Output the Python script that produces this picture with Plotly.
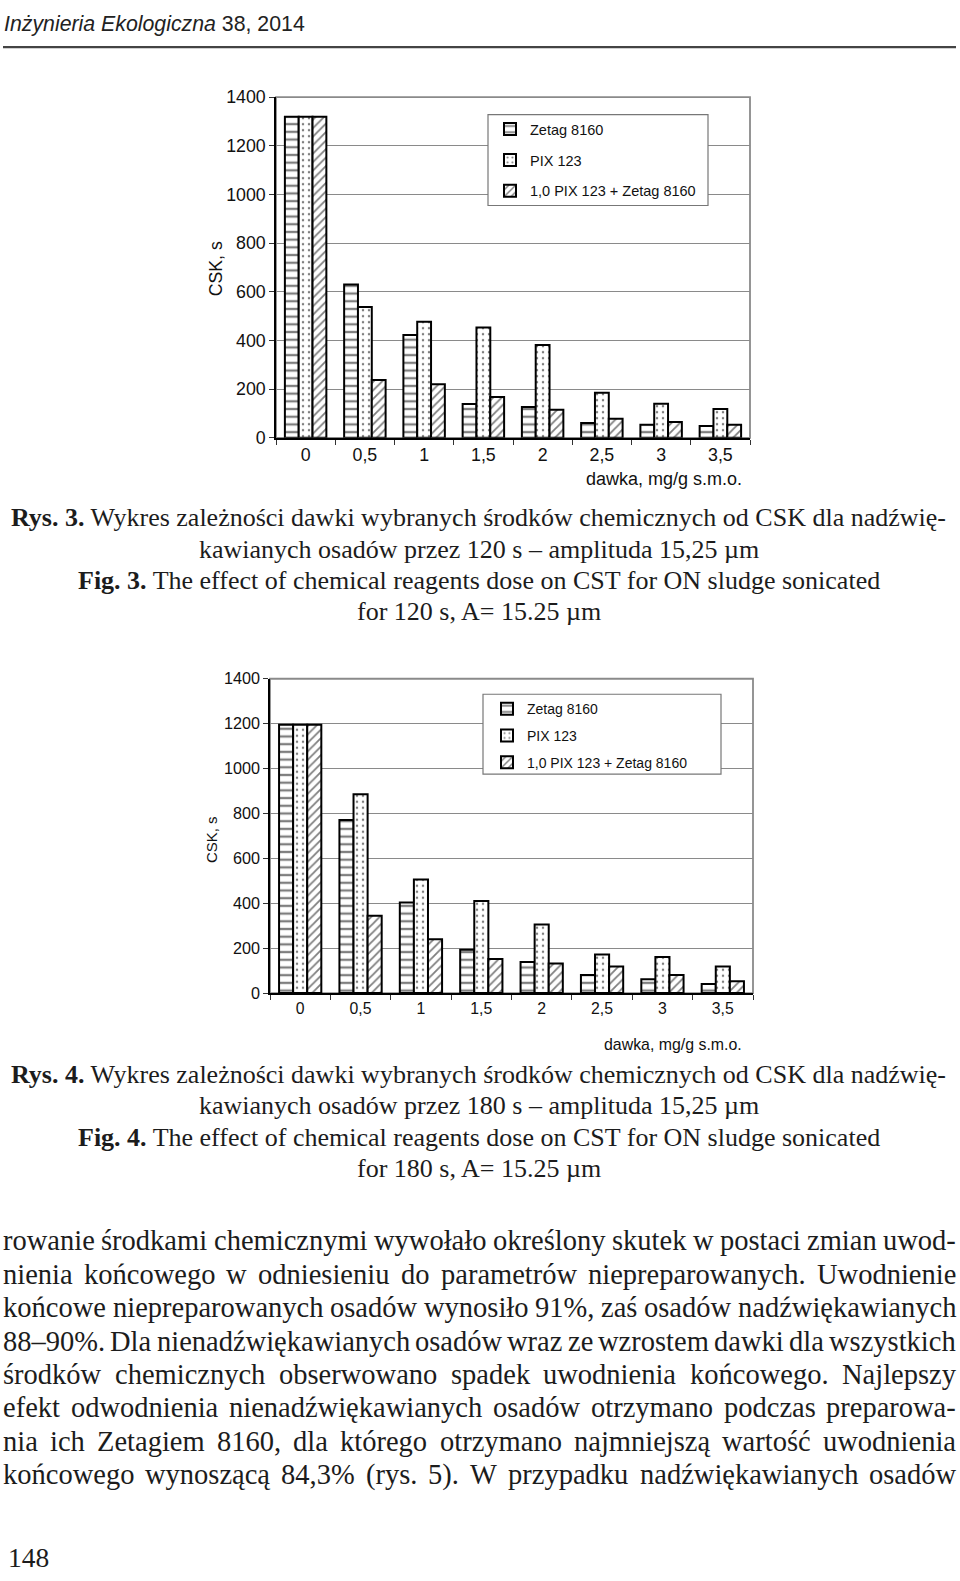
import plotly.graph_objects as go

# ---------------- data ----------------
doses = ["0", "0,5", "1", "1,5", "2", "2,5", "3", "3,5"]
series_names = ["Zetag 8160", "PIX 123", "1,0 PIX 123 + Zetag 8160"]
fig3_zetag = [1320, 630, 423, 139, 127, 61, 54, 49]
fig3_pix = [1320, 538, 477, 453, 381, 185, 140, 118]
fig3_combo = [1320, 238, 220, 168, 115, 78, 65, 54]
fig4_zetag = [1195, 771, 403, 193, 138, 81, 62, 40]
fig4_pix = [1195, 885, 506, 410, 306, 172, 161, 119]
fig4_combo = [1195, 345, 240, 152, 132, 119, 81, 53]
y_ticks = [0, 200, 400, 600, 800, 1000, 1200, 1400]

header_text = "<i>Inżynieria Ekologiczna</i> 38, 2014"
caption3 = ["<b>Rys. 3.</b> Wykres zależności dawki wybranych środków chemicznych od CSK dla nadźwię-",
            "kawianych osadów przez 120 s – amplituda 15,25 µm",
            "<b>Fig. 3.</b> The effect of chemical reagents dose on CST for ON sludge sonicated",
            "for 120 s, A= 15.25 µm"]
caption4 = ["<b>Rys. 4.</b> Wykres zależności dawki wybranych środków chemicznych od CSK dla nadźwię-",
            "kawianych osadów przez 180 s – amplituda 15,25 µm",
            "<b>Fig. 4.</b> The effect of chemical reagents dose on CST for ON sludge sonicated",
            "for 180 s, A= 15.25 µm"]
body_lines = [
    "rowanie środkami chemicznymi wywołało określony skutek w postaci zmian uwod-",
    "nienia końcowego w odniesieniu do parametrów niepreparowanych. Uwodnienie",
    "końcowe niepreparowanych osadów wynosiło 91%, zaś osadów nadźwiękawianych",
    "88–90%. Dla nienadźwiękawianych osadów wraz ze wzrostem dawki dla wszystkich",
    "środków chemicznych obserwowano spadek uwodnienia końcowego. Najlepszy",
    "efekt odwodnienia nienadźwiękawianych osadów otrzymano podczas preparowa-",
    "nia ich Zetagiem 8160, dla którego otrzymano najmniejszą wartość uwodnienia",
    "końcowego wynoszącą 84,3% (rys. 5). W przypadku nadźwiękawianych osadów",
]
page_number = "148"

# ---------------- helpers ----------------
W, H = 960, 1581


def px(x):
    return x / W


def py(y):
    return 1 - y / H


TIMES = {}
for ch, w in zip("abcdefghijklmnopqrstuvwxyz",
                 [444, 500, 444, 500, 444, 333, 500, 500, 278, 278, 500, 278, 778,
                  500, 500, 500, 500, 333, 389, 278, 500, 500, 722, 500, 500, 444]):
    TIMES[ch] = w
for ch, w in zip("ABCDEFGHIJKLMNOPQRSTUVWXYZ",
                 [722, 667, 667, 722, 611, 556, 722, 722, 333, 389, 722, 611, 889,
                  722, 722, 556, 722, 667, 556, 611, 722, 722, 944, 722, 722, 611]):
    TIMES[ch] = w
for ch in "0123456789":
    TIMES[ch] = 500
TIMES.update({" ": 250, ".": 250, ",": 250, "%": 833, "(": 333, ")": 333, "–": 500,
              "-": 333, ":": 278, "ą": 444, "ć": 444, "ę": 444, "ł": 278, "ń": 500,
              "ó": 500, "ś": 389, "ź": 444, "ż": 444})


def tw(s, fs):
    return sum(TIMES.get(c, 500) for c in s) * fs / 1000.0


SANS = "Liberation Sans, Arial, sans-serif"
SERIF = "Liberation Serif, Times New Roman, serif"

fig = go.Figure()

patterns = [dict(shape="-", size=7.7, solidity=0.3, fgcolor="black", bgcolor="white"),
            dict(shape=".", size=6, solidity=0.14, fgcolor="black", bgcolor="white"),
            dict(shape="/", size=6, solidity=0.3, fgcolor="black", bgcolor="white")]

for i, (name, vals) in enumerate(zip(series_names, [fig3_zetag, fig3_pix, fig3_combo])):
    fig.add_trace(go.Bar(x=doses, y=vals, name=name, xaxis="x", yaxis="y",
                         marker=dict(color="white", pattern=patterns[i],
                                     line=dict(color="black", width=2)),
                         legend="legend", legendgroup="a%d" % i))
for i, (name, vals) in enumerate(zip(series_names, [fig4_zetag, fig4_pix, fig4_combo])):
    fig.add_trace(go.Bar(x=doses, y=vals, name=name, xaxis="x2", yaxis="y2",
                         marker=dict(color="white", pattern=patterns[i],
                                     line=dict(color="black", width=2)),
                         legend="legend2", legendgroup="b%d" % i))

# chart geometry (pixels)
c1 = dict(x0=276, x1=750, y0=88.3, y1=433.3)
c2 = dict(x0=270, x1=753, y0=677.3, y1=995.7)


def xaxis_cfg(c, fs, anchor):
    return dict(domain=[px(c["x0"]), px(c["x1"])], anchor=anchor, type="category",
                range=[-0.5, 7.5], showline=True, linecolor="black", linewidth=1.5,
                ticks="outside", tickson="boundaries", ticklen=5, tickcolor="#333",
                tickfont=dict(family=SANS, size=fs, color="#111"), showgrid=False,
                zeroline=False, fixedrange=True)


def yaxis_cfg(c, fs, anchor):
    return dict(domain=[py(c["y1"]), py(c["y0"])], anchor=anchor, range=[0, 1400],
                tickvals=y_ticks, showline=True, linecolor="black", linewidth=1.5,
                ticks="outside", ticklen=5, tickcolor="#333",
                tickfont=dict(family=SANS, size=fs, color="#111"),
                showgrid=True, gridcolor="#8a8a8a", gridwidth=1.2, zeroline=False,
                fixedrange=True)


shapes = []
for xr, yr in [("x domain", "y domain"), ("x2 domain", "y2 domain")]:
    shapes.append(dict(type="rect", xref=xr, yref=yr, x0=0, x1=1, y0=0, y1=1,
                       line=dict(color="#8a8a8a", width=1.8), layer="below"))
# legend boxes
shapes.append(dict(type="rect", xref="paper", yref="paper", x0=px(488), x1=px(708),
                   y0=py(198), y1=py(106), line=dict(color="#777", width=1.2),
                   fillcolor="white", layer="above"))
shapes.append(dict(type="rect", xref="paper", yref="paper", x0=px(483), x1=px(721),
                   y0=py(774), y1=py(693), line=dict(color="#777", width=1.2),
                   fillcolor="white", layer="above"))
# header rule
shapes.append(dict(type="line", xref="paper", yref="paper", x0=px(3), x1=px(956),
                   y0=py(37.5), y1=py(37.5), line=dict(color="#444", width=2.2)))

ann = []
# header
ann.append(dict(text=header_text, x=px(3), y=py(14), xref="paper", yref="paper",
                xanchor="left", yanchor="middle", showarrow=False, borderpad=0,
                font=dict(family="Liberation Sans, Arial", size=21.3, color="#222")))
# axis titles
ann.append(dict(text="CSK, s", x=px(216), y=py(262.6), xref="paper", yref="paper",
                xanchor="center", yanchor="middle",
                textangle=-90, showarrow=False, borderpad=0,
                font=dict(family=SANS, size=17.7, color="#111")))
ann.append(dict(text="CSK, s", x=px(211.7), y=py(840), xref="paper", yref="paper",
                xanchor="center", yanchor="middle",
                textangle=-90, showarrow=False, borderpad=0,
                font=dict(family=SANS, size=15, color="#111")))
ann.append(dict(text="dawka, mg/g s.m.o.", x=px(743), y=py(475), xref="paper", yref="paper",
                xanchor="right", yanchor="middle", showarrow=False, borderpad=0,
                font=dict(family=SANS, size=18, color="#111")))
ann.append(dict(text="dawka, mg/g s.m.o.", x=px(743), y=py(1048), xref="paper", yref="paper",
                xanchor="right", yanchor="middle", showarrow=False, borderpad=0,
                font=dict(family=SANS, size=15.9, color="#111")))

# captions
CAP_FS = 26
for lines, base0 in [(caption3, 523), (caption4, 1087)]:
    for k, t in enumerate(lines):
        b = base0 + 31.7 * k
        ann.append(dict(text=t, x=px(478.5), y=py(b - 0.3375 * CAP_FS), xref="paper",
                        yref="paper", xanchor="center", yanchor="middle", showarrow=False,
                        borderpad=0, font=dict(family=SERIF, size=CAP_FS, color="#1c1c1c")))

# justified body text (word by word)
BODY_FS = 28.5
L, R = 2, 955
for k, line in enumerate(body_lines):
    b = 1256 + 33.9 * k
    words = line.split(" ")
    widths = [tw(wd, BODY_FS) for wd in words]
    gap = (R - L - sum(widths)) / (len(words) - 1)
    x = L
    for wd, wdt in zip(words, widths):
        ann.append(dict(text=wd, x=px(x), y=py(b - 0.3375 * BODY_FS), xref="paper",
                        yref="paper", xanchor="left", yanchor="middle", showarrow=False,
                        borderpad=0, font=dict(family=SERIF, size=BODY_FS, color="#1c1c1c")))
        x += wdt + gap

ann.append(dict(text=page_number, x=px(7), y=py(1577 - 0.3375 * 27.5), xref="paper",
                yref="paper", xanchor="left", yanchor="middle", showarrow=False,
                borderpad=0, font=dict(family=SERIF, size=27.5, color="#1c1c1c")))

fig.update_layout(
    width=W, height=H, autosize=False, margin=dict(l=0, r=0, t=0, b=0),
    paper_bgcolor="white", plot_bgcolor="white",
    barmode="group", bargap=0.3, bargroupgap=0,
    xaxis=xaxis_cfg(c1, 17.8, "y"), yaxis=yaxis_cfg(c1, 17.8, "x"),
    xaxis2=xaxis_cfg(c2, 15.8, "y2"), yaxis2=yaxis_cfg(c2, 16.2, "x2"),
    legend=dict(x=px(490), y=py(104.5), xanchor="left", yanchor="top", bgcolor="rgba(0,0,0,0)",
                borderwidth=0, font=dict(family=SANS, size=14.5, color="#111"),
                tracegroupgap=9, itemwidth=30),
    legend2=dict(x=px(487), y=py(692), xanchor="left", yanchor="top", bgcolor="rgba(0,0,0,0)",
                 borderwidth=0, font=dict(family=SANS, size=14, color="#111"),
                 tracegroupgap=5.5, itemwidth=30),
    shapes=shapes, annotations=ann, showlegend=True,
)

fig.write_html("out.html", config={"displayModeBar": False},
               post_script="document.body.style.margin='0';document.body.style.padding='0';"
                           "document.documentElement.style.overflow='hidden';")
